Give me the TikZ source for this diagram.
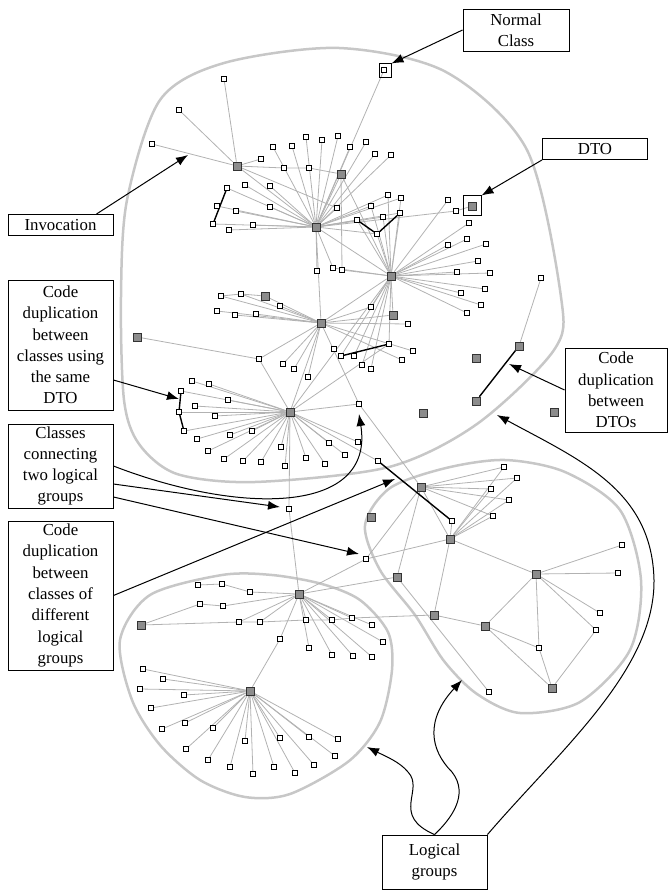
\documentclass[tikz,border=0pt]{standalone}
\usepackage{fontspec}
\setmainfont{Liberation Serif}
\usetikzlibrary{arrows.meta,backgrounds}

\begin{document}
\begin{tikzpicture}[x=1pt, y=-1pt,
        cls/.style={draw, fill=white, minimum size=5pt, inner sep=0pt, line width=0.6pt},
        hub/.style={draw=black!80, fill=black!45, minimum size=8pt, inner sep=0pt, line width=0.6pt},
        frame/.style={draw, line width=1pt, inner sep=0pt},
        link/.style={draw=black!30, line width=0.8pt},
        dup/.style={draw=black, line width=1.4pt},
        group/.style={draw=black!22, line width=2.5pt},
        note/.style={draw, fill=white, align=center, inner sep=0pt, line width=0.9pt, font=\fontsize{16.8}{21.3}\selectfont},
        arrow/.style={-{Latex[length=12pt,width=9pt]}, line width=1pt}
    ]
        \useasboundingbox (0,0) rectangle (668,890);

        % hubs and DTOs
        \node[hub] (h1) at (237,166) {};
        \node[hub] (h2) at (341,174) {};
        \node[hub] (h3) at (316,227) {};
        \node[hub] (h4) at (391,276) {};
        \node[hub] (h5) at (321,323) {};
        \node[hub] (h6) at (290,412) {};
        \node[hub] (h7) at (421,487) {};
        \node[hub] (h8) at (450,539) {};
        \node[hub] (h9) at (299,594) {};
        \node[hub] (h10) at (536,574) {};
        \node[hub] (h11) at (485,626) {};
        \node[hub] (h12) at (250,691) {};
        \node[hub] (dto) at (472,206) {};
        \node[hub] (g1) at (265,296) {};  \node[hub] (g2) at (393,315) {};
        \node[hub] (g3) at (137,337) {};  \node[hub] (g4) at (423,413) {};
        \node[hub] (g5) at (476,358) {};  \node[hub] (g6) at (519,346) {};
        \node[hub] (g7) at (476,401) {};  \node[hub] (g8) at (554,412) {};
        \node[hub] (g9) at (371,517) {};  \node[hub] (g10) at (397,577) {};
        \node[hub] (g11) at (434,615) {}; \node[hub] (g12) at (141,625) {};
        \node[hub] (g13) at (552,688) {};

        % classes, first group
        \node[cls] (nc) at (384,70) {};
        \node[cls] (a1) at (179,110) {}; \node[cls] (a2) at (152,144) {}; \node[cls] (a3) at (224,79) {};
        \node[cls] (a4) at (261,159) {}; \node[cls] (a5) at (284,168) {}; \node[cls] (a6) at (309,168) {};
        \node[cls] (b1) at (273,147) {}; \node[cls] (b2) at (292,146) {}; \node[cls] (b3) at (306,137) {};
        \node[cls] (b4) at (322,140) {}; \node[cls] (b5) at (338,136) {}; \node[cls] (b6) at (350,147) {};
        \node[cls] (b7) at (366,142) {}; \node[cls] (b8) at (375,154) {}; \node[cls] (b9) at (391,155) {};
        \node[cls] (c1) at (245,185) {}; \node[cls] (c2) at (270,186) {}; \node[cls] (c3) at (227,188) {};
        \node[cls] (c4) at (217,206) {}; \node[cls] (c5) at (236,211) {}; \node[cls] (c6) at (270,207) {};
        \node[cls] (c7) at (213,224) {}; \node[cls] (c8) at (229,230) {}; \node[cls] (c9) at (253,225) {};
        \node[cls] (d1) at (337,208) {}; \node[cls] (d2) at (357,220) {}; \node[cls] (d3) at (371,206) {};
        \node[cls] (d4) at (388,195) {}; \node[cls] (d5) at (401,198) {}; \node[cls] (d6) at (383,217) {};
        \node[cls] (d7) at (400,213) {}; \node[cls] (d8) at (377,234) {};
        \node[cls] (e1) at (317,271) {}; \node[cls] (e2) at (333,268) {}; \node[cls] (e3) at (342,270) {};
        \node[cls] (f1) at (448,200) {}; \node[cls] (f2) at (456,211) {}; \node[cls] (f3) at (469,223) {};
        \node[cls] (f4) at (467,239) {}; \node[cls] (f5) at (448,245) {}; \node[cls] (f6) at (486,244) {};
        \node[cls] (f7) at (478,261) {}; \node[cls] (f8) at (457,272) {}; \node[cls] (f9) at (490,273) {};
        \node[cls] (f10) at (485,289) {}; \node[cls] (f11) at (461,293) {}; \node[cls] (f12) at (481,305) {};
        \node[cls] (f13) at (467,313) {}; \node[cls] (f14) at (408,324) {}; \node[cls] (f15) at (413,351) {};
        \node[cls] (f16) at (402,360) {};
        \node[cls] (k1) at (221,296) {}; \node[cls] (k2) at (241,294) {}; \node[cls] (k3) at (280,306) {};
        \node[cls] (k4) at (217,311) {}; \node[cls] (k5) at (235,315) {}; \node[cls] (k6) at (256,314) {};
        \node[cls] (k7) at (371,307) {}; \node[cls] (k8) at (259,359) {}; \node[cls] (k9) at (283,364) {};
        \node[cls] (k10) at (294,369) {}; \node[cls] (k11) at (308,377) {}; \node[cls] (k12) at (334,349) {};
        \node[cls] (k13) at (359,404) {};
        \node[cls] (m1) at (341,356) {}; \node[cls] (m2) at (354,356) {}; \node[cls] (m3) at (389,344) {};
        \node[cls] (m4) at (362,365) {}; \node[cls] (m5) at (371,369) {};
        \node[cls] (p1) at (192,381) {}; \node[cls] (p2) at (209,384) {}; \node[cls] (p3) at (181,391) {};
        \node[cls] (p4) at (228,400) {}; \node[cls] (p5) at (195,406) {}; \node[cls] (p6) at (179,412) {};
        \node[cls] (p7) at (215,416) {}; \node[cls] (p8) at (184,431) {}; \node[cls] (p9) at (197,439) {};
        \node[cls] (p10) at (230,435) {}; \node[cls] (p11) at (252,431) {}; \node[cls] (p12) at (208,451) {};
        \node[cls] (p13) at (224,459) {}; \node[cls] (p14) at (243,461) {}; \node[cls] (p15) at (261,462) {};
        \node[cls] (p16) at (285,466) {}; \node[cls] (p17) at (281,447) {}; \node[cls] (p18) at (306,458) {};
        \node[cls] (p19) at (325,464) {}; \node[cls] (p20) at (329,443) {}; \node[cls] (p21) at (345,455) {};
        \node[cls] (p22) at (358,442) {}; \node[cls] (p23) at (378,461) {};
        \node[cls] (r1) at (541,278) {};
        \node[cls] (q1) at (289,509) {}; \node[cls] (q2) at (366,559) {};

        % classes, second group
        \node[cls] (s1) at (504,467) {}; \node[cls] (s2) at (517,478) {}; \node[cls] (s3) at (491,489) {};
        \node[cls] (s4) at (509,500) {}; \node[cls] (s5) at (493,516) {}; \node[cls] (s6) at (452,521) {};
        \node[cls] (s7) at (622,545) {}; \node[cls] (s8) at (618,573) {}; \node[cls] (s9) at (600,613) {};
        \node[cls] (s10) at (596,630) {}; \node[cls] (s11) at (539,648) {}; \node[cls] (s12) at (489,692) {};

        % classes, third group
        \node[cls] (u0) at (198,585) {}; \node[cls] (u1) at (200,604) {}; \node[cls] (u2) at (223,606) {};
        \node[cls] (u3) at (222,584) {}; \node[cls] (u4) at (250,592) {}; \node[cls] (u5) at (239,622) {};
        \node[cls] (u6) at (260,622) {}; \node[cls] (u7) at (306,620) {}; \node[cls] (u8) at (332,620) {};
        \node[cls] (u9) at (352,618) {}; \node[cls] (u10) at (372,625) {}; \node[cls] (u11) at (383,642) {};
        \node[cls] (u12) at (280,639) {}; \node[cls] (u13) at (309,648) {}; \node[cls] (u14) at (332,655) {};
        \node[cls] (u15) at (353,656) {}; \node[cls] (u16) at (372,657) {};
        \node[cls] (v1) at (143,669) {}; \node[cls] (v2) at (163,679) {}; \node[cls] (v3) at (140,689) {};
        \node[cls] (v4) at (184,695) {}; \node[cls] (v5) at (151,708) {}; \node[cls] (v6) at (185,723) {};
        \node[cls] (v7) at (162,729) {}; \node[cls] (v8) at (213,728) {}; \node[cls] (v9) at (186,749) {};
        \node[cls] (v10) at (208,760) {}; \node[cls] (v11) at (245,741) {}; \node[cls] (v12) at (280,738) {};
        \node[cls] (v13) at (309,737) {}; \node[cls] (v14) at (338,739) {}; \node[cls] (v15) at (335,756) {};
        \node[cls] (v16) at (314,765) {}; \node[cls] (v17) at (295,773) {}; \node[cls] (v18) at (274,767) {};
        \node[cls] (v19) at (253,774) {}; \node[cls] (v20) at (230,767) {};

        \node[frame, minimum width=12pt, minimum height=14pt] (ncframe) at (385,71) {};
        \node[frame, minimum width=18pt, minimum height=20pt] (dtoframe) at (472,206) {};

        \begin{scope}[on background layer]
            % logical groups
            \draw[group] plot[smooth cycle] coordinates {(224,63) (339,48) (446,72) (527,150) (561,297) (554,350) (477,424) (389,467) (255,482) (177,474) (139,444) (124,400) (121,297) (127,200) (160,100)};
            \draw[group] plot[smooth cycle] coordinates {(446,468) (390,488) (365,525) (380,570) (415,615) (444,661) (477,694) (520,713) (580,702) (630,650) (641,580) (620,510) (565,472) (505,460)};
            \draw[group] plot[smooth cycle] coordinates {(150,595) (222,575) (272,575) (322,584) (360,600) (388,632) (392,670) (380,722) (349,761) (290,794) (245,797) (200,780) (160,745) (132,700) (120,640)};

            % invocations
            \draw[link] (h1) edge (a1) edge (a2) edge (a3) edge (a4) edge (a5) edge (h3) edge (d1);
            \draw[link] (a5) -- (a6) -- (h2);
            \draw[link] (h3) edge (nc) edge (b1) edge (b2) edge (b3) edge (b4) edge (b5) edge (b6) edge (b7) edge (b8) edge (b9)
                edge (c1) edge (c2) edge (c3) edge (c4) edge (c5) edge (c6) edge (c7) edge (c8) edge (c9)
                edge (d1) edge (d2) edge (d3) edge (d4) edge (d5) edge (d6) edge (d7) edge (d8)
                edge (e1) edge (e2) edge (f2) edge (h4) edge (h5);
            \draw[link] (h2) edge (e3) edge (h4) edge (h3);
            \draw[link] (h4) edge (d3) edge (d4) edge (d5) edge (d6) edge (d7) edge (d8) edge (d2) edge (e2) edge (e3)
                edge (f1) edge (f3) edge (f4) edge (f5) edge (f6) edge (f7) edge (f8) edge (f9) edge (f10) edge (f11) edge (f12) edge (f13)
                edge (k7) edge (g2) edge (m1) edge (m2) edge (m3) edge (m4) edge (m5) edge (h5) edge (h6);
            \draw[link] (f2) -- (dto);
            \draw[link] (k1) -- (k2) -- (g1);
            \draw[link] (h5) edge (k1) edge (k2) edge (g1) edge (k3) edge (k4) edge (k5) edge (k6) edge (k7) edge (k8)
                edge (k9) edge (k10) edge (k11) edge (k13) edge (g2) edge (f14) edge (f15) edge (f16) edge (h6);
            \draw[link] (g3) -- (k8) -- (h6);
            \draw[link] (h6) edge (p1) edge (p2) edge (p3) edge (p4) edge (p5) edge (p6) edge (p7) edge (p8) edge (p9) edge (p10)
                edge (p11) edge (p12) edge (p13) edge (p14) edge (p15) edge (p16) edge (p17) edge (p18) edge (p19) edge (p20)
                edge (p21) edge (p22) edge (p23) edge (k13) edge (m3) edge (q1);
            \draw[link] (r1) -- (g6);
            \draw[link] (q1) -- (h9);
            \draw[link] (k13) -- (h7);
            \draw[link] (h7) edge (s1) edge (s2) edge (s3) edge (s4) edge (s5) edge (h8) edge (g10) edge (q2);
            \draw[link] (h8) edge (s1) edge (s2) edge (s3) edge (s4) edge (s5) edge (s6) edge (q2) edge (g11) edge (h10);
            \draw[link] (h10) edge (s7) edge (s8) edge (s9) edge (s10) edge (s11) edge (h11);
            \draw[link] (h11) edge (g11) edge (s11) edge (g13);
            \draw[link] (s10) -- (g13);
            \draw[link] (s11) -- (g13);
            \draw[link] (g10) -- (s12);
            \draw[link] (h9) edge (g10) edge (q2);
            \draw[link] (g12) -- (u1) -- (u2) -- (h9);
            \draw[link] (u0) -- (u3) -- (u4) -- (h9);
            \draw[link] (g12) -- (u5) -- (u6) -- (u7) -- (u8) -- (u9) -- (g11);
            \draw[link] (h9) edge (u5) edge (u6) edge (u7) edge (u8) edge (u9) edge (u10) edge (u11)
                edge (u13) edge (u14) edge (u15) edge (u16);
            \draw[link] (h9) -- (u12) -- (h12);
            \draw[link] (h12) edge (v1) edge (v2) edge (v3) edge (v4) edge (v5) edge (v6) edge (v7) edge (v8) edge (v9) edge (v10)
                edge (v11) edge (v12) edge (v13) edge (v14) edge (v15) edge (v16) edge (v17) edge (v18) edge (v19) edge (v20);

            % code duplication
            \draw[dup] (c3) -- (c7);
            \draw[dup] (d2) -- (d8) -- (d7);
            \draw[dup] (m1) -- (m3);
            \draw[dup] (p3) -- (p6) -- (p8);
            \draw[dup] (p23) -- (s6);
            \draw[dup] (g6) -- (g7);
        \end{scope}

        % notes
        \node[note, minimum width=106pt, minimum height=42pt] (normalbox) at (516,30) {Normal\\Class};
        \node[note, minimum width=105pt, minimum height=21pt] (dtobox) at (595,149) {DTO};
        \node[note, minimum width=105pt, minimum height=21pt] (invbox) at (60.5,225) {Invocation};
        \node[note, minimum width=105pt, minimum height=130pt] (dupbox) at (60.5,345) {Code\\duplication\\between\\classes using\\the same\\DTO};
        \node[note, minimum width=105pt, minimum height=84pt] (conbox) at (60.5,466) {Classes\\connecting\\two logical\\groups};
        \node[note, minimum width=105pt, minimum height=149pt] (diffbox) at (60.5,595.5) {Code\\duplication\\between\\classes of\\different\\logical\\groups};
        \node[note, minimum width=102pt, minimum height=84pt] (dtosbox) at (616,390) {Code\\duplication\\between\\DTOs};
        \node[note, minimum width=105pt, minimum height=54pt] (logbox) at (434.5,862) {Logical\\groups};

        \coordinate (invtip) at (188,155);
        \coordinate (duptip) at (179,399);
        \coordinate (contip1) at (359,414);
        \coordinate (contip2) at (280,507);
        \coordinate (contip3) at (359,554);
        \coordinate (difftip) at (395,479);
        \coordinate (dtostip) at (509,364);
        \coordinate (logtip1) at (367,747);
        \coordinate (logtip2) at (462,680);
        \coordinate (logtip3) at (497,415);

        \draw[arrow] (normalbox.west) -- (ncframe.north east);
        \draw[arrow] (dtobox.south west) -- (dtoframe.north east);
        \draw[arrow] ([xshift=-17pt]invbox.north east) -- (invtip);
        \draw[arrow] ([yshift=-35pt]dupbox.east) -- (duptip);
        \draw[arrow] (conbox.east) .. controls (240,515) and (375,515) .. (contip1);
        \draw[arrow] ([yshift=-18pt]conbox.east) -- (contip2);
        \draw[arrow] ([yshift=-31pt]conbox.east) -- (contip3);
        \draw[arrow] (diffbox.east) -- (difftip);
        \draw[arrow] (dtosbox.west) -- (dtostip);
        \draw[arrow] (logbox.north) .. controls (390,815) and (425,790) .. (408,772) .. controls (400,762) and (385,756) .. (logtip1);
        \draw[arrow] (logbox.north) .. controls (450,820) and (470,795) .. (452,772) .. controls (430,750) and (425,720) .. (logtip2);
        \draw[arrow] (logbox.north east) .. controls (560,750) and (655,670) .. (654,580) .. controls (652,490) and (580,460) .. (logtip3);
    \end{tikzpicture}
\end{document}
